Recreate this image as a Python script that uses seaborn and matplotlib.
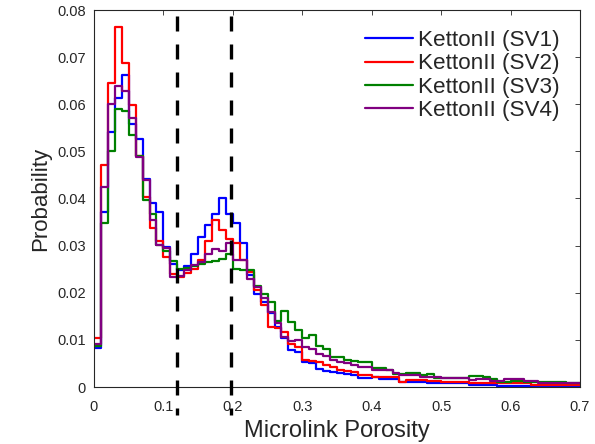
import numpy as np
import pandas as pd
import matplotlib
matplotlib.use("Agg")
import matplotlib.pyplot as plt
import seaborn as sns

# ---------------- data ----------------
bin_edges = [round(i * 0.01, 2) for i in range(71)]
bin_centers = [round(i * 0.01 + 0.005, 3) for i in range(70)]

sv1 = [0.0082,0.0372,0.0541,0.0614,0.0663,0.0559,0.0527,0.0442,0.0391,0.0371,
       0.0297,0.0262,0.0248,0.0256,0.0283,0.0318,0.0343,0.0367,0.0402,0.0368,
       0.0347,0.0306,0.0237,0.0198,0.0181,0.0156,0.0127,0.0103,0.0078,0.0074,
       0.0053,0.0050,0.0039,0.0034,0.0032,0.0029,0.0028,0.0025,0.0020,0.0020,
       0.0021,0.0016,0.0016,0.0016,0.0011,0.0011,0.0010,0.0010,0.0009,0.0009,
       0.0009,0.0008,0.0008,0.0008,0.0005,0.0005,0.0005,0.0004,0.0003,0.0003,
       0.0003,0.0003,0.0003,0.0003,0.0002,0.0003,0.0002,0.0002,0.0002,0.0002]

sv2 = [0.0105,0.0471,0.0645,0.0764,0.0687,0.0598,0.0490,0.0403,0.0338,0.0310,
       0.0275,0.0240,0.0234,0.0241,0.0251,0.0270,0.0309,0.0354,0.0334,0.0315,
       0.0306,0.0269,0.0244,0.0205,0.0175,0.0127,0.0125,0.0117,0.0092,0.0085,
       0.0058,0.0055,0.0054,0.0047,0.0043,0.0036,0.0035,0.0032,0.0026,0.0026,
       0.0021,0.0021,0.0021,0.0021,0.0011,0.0014,0.0014,0.0014,0.0013,0.0013,
       0.0011,0.0011,0.0010,0.0010,0.0009,0.0009,0.0009,0.0008,0.0008,0.0008,
       0.0008,0.0008,0.0008,0.0005,0.0005,0.0005,0.0005,0.0005,0.0004,0.0004]

sv3 = [0.0087,0.0347,0.0500,0.0589,0.0586,0.0534,0.0490,0.0396,0.0368,0.0301,
       0.0289,0.0268,0.0251,0.0253,0.0256,0.0260,0.0265,0.0268,0.0272,0.0283,
       0.0250,0.0248,0.0248,0.0215,0.0197,0.0180,0.0140,0.0161,0.0138,0.0120,
       0.0103,0.0110,0.0086,0.0081,0.0064,0.0064,0.0058,0.0055,0.0053,0.0053,
       0.0041,0.0041,0.0037,0.0028,0.0028,0.0030,0.0030,0.0026,0.0028,0.0020,
       0.0020,0.0020,0.0020,0.0020,0.0023,0.0023,0.0022,0.0018,0.0011,0.0011,
       0.0013,0.0013,0.0011,0.0011,0.0011,0.0010,0.0010,0.0010,0.0008,0.0008]

sv4 = [0.0092,0.0425,0.0600,0.0639,0.0628,0.0570,0.0488,0.0439,0.0355,0.0301,
       0.0294,0.0233,0.0236,0.0248,0.0258,0.0265,0.0282,0.0292,0.0289,0.0306,
       0.0269,0.0269,0.0230,0.0212,0.0188,0.0159,0.0136,0.0106,0.0098,0.0100,
       0.0085,0.0080,0.0070,0.0066,0.0057,0.0053,0.0050,0.0046,0.0043,0.0043,
       0.0036,0.0036,0.0036,0.0030,0.0025,0.0025,0.0025,0.0021,0.0021,0.0021,
       0.0019,0.0019,0.0019,0.0019,0.0014,0.0018,0.0018,0.0013,0.0013,0.0016,
       0.0016,0.0016,0.0013,0.0013,0.0009,0.0009,0.0009,0.0008,0.0008,0.0008]

series_names = ["KettonII (SV1)", "KettonII (SV2)", "KettonII (SV3)", "KettonII (SV4)"]
series_values = [sv1, sv2, sv3, sv4]
series_colors = ["#0000FF", "#FF0000", "#008000", "#800080"]

thresholds = [0.12, 0.197]

xticks = [0, 0.1, 0.2, 0.3, 0.4, 0.5, 0.6, 0.7]
xticklabels = ["0", "0.1", "0.2", "0.3", "0.4", "0.5", "0.6", "0.7"]
yticks = [0, 0.01, 0.02, 0.03, 0.04, 0.05, 0.06, 0.07, 0.08]
yticklabels = ["0", "0.01", "0.02", "0.03", "0.04", "0.05", "0.06", "0.07", "0.08"]

# ---------------- plot ----------------
sns.set_style("white")
plt.rcParams["font.family"] = ["Liberation Sans", "DejaVu Sans"]

fig = plt.figure(figsize=(5.95, 4.44), dpi=100)
ax = fig.add_axes([94/595, 1 - 387/444, (580-94)/595, (387-10)/444])

axis_col = "#262626"
for name, vals, col in zip(series_names, series_values, series_colors):
    df = pd.DataFrame({"x": bin_centers, "w": vals})
    sns.histplot(data=df, x="x", weights="w", bins=bin_edges, element="step",
                 fill=False, color=col, linewidth=1.6, ax=ax, label=name)

for t in thresholds:
    ax.plot([t, t], [0.0788, -0.0060], color="black", linewidth=2.4,
            linestyle=(0, (4.5, 3.9)), clip_on=False, zorder=5)

ax.set_xlim(0, 0.7)
ax.set_ylim(0, 0.08)
ax.set_xticks(xticks)
ax.set_xticklabels(xticklabels)
ax.set_yticks(yticks)
ax.set_yticklabels(yticklabels)
ax.tick_params(direction="in", length=3.5, width=0.6, colors=axis_col,
               labelsize=10.5, top=True, right=True, pad=6)
ax.tick_params(axis="x", pad=9)
for s in ax.spines.values():
    s.set_color(axis_col)
    s.set_linewidth(0.8)

ax.set_xlabel("Microlink Porosity", fontsize=17, color=axis_col, labelpad=5)
ax.set_ylabel("Probability", fontsize=16, color=axis_col, labelpad=4)

leg = ax.legend(loc="upper right", frameon=False, fontsize=16.2,
                handlelength=2.1, handletextpad=0.25, labelspacing=0.1,
                borderaxespad=0.5)
for line in leg.get_lines():
    line.set_linewidth(1.6)

fig.savefig("out.png", dpi=100)
